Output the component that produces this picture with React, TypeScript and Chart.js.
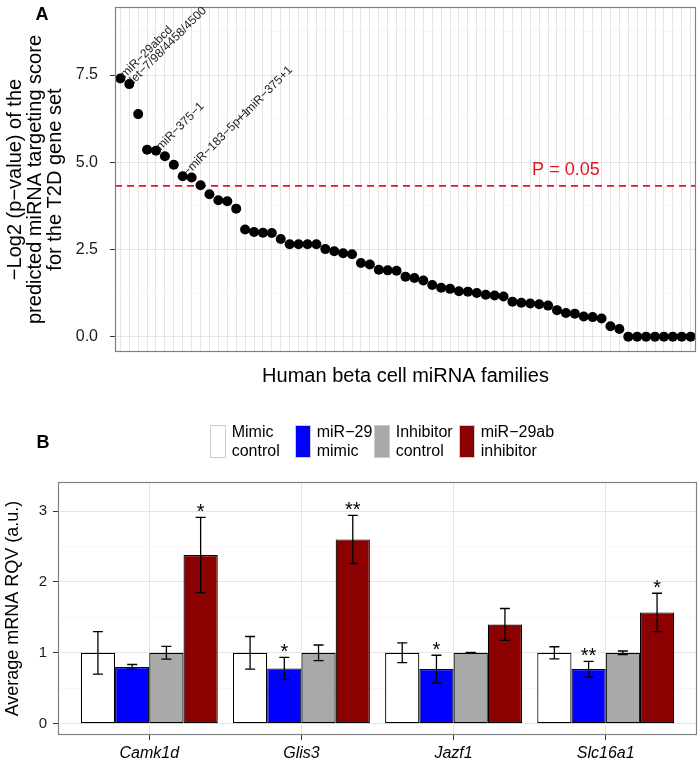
import React, { useEffect, useRef } from "react";
import { Chart, registerables } from "chart.js";

Chart.register(...registerables);

const FONT = '"Liberation Sans", Arial, Helvetica, sans-serif';

// ---------- Panel A data ----------
const familyScores = [
  7.40, 7.24, 6.38, 5.36, 5.33, 5.17, 4.93, 4.60, 4.56, 4.34,
  4.08, 3.91, 3.88, 3.67, 3.07, 3.00, 2.98, 2.97, 2.80, 2.65,
  2.65, 2.65, 2.65, 2.51, 2.45, 2.39, 2.36, 2.11, 2.07, 1.92,
  1.90, 1.89, 1.72, 1.68, 1.61, 1.48, 1.40, 1.37, 1.30, 1.29,
  1.25, 1.20, 1.18, 1.15, 1.00, 0.97, 0.95, 0.93, 0.89, 0.76,
  0.68, 0.66, 0.58, 0.56, 0.52, 0.30, 0.22,
  0, 0, 0, 0, 0, 0, 0, 0,
];
const familyLabels = [
  { index: 0, text: " miR−29abcd" },
  { index: 1, text: " let−7/98/4458/4500" },
  { index: 4, text: " miR−375−1" },
  { index: 7, text: " −miR−183−5p+1" },
  { index: 7, text: "                       −−miR−375+1" },
];
const pValueCutoff = 0.05;
const cutoffLabel = "P = 0.05";
const yTicksA = [0, 2.5, 5, 7.5];
const yMinorA = [1.25, 3.75, 6.25, 8.75];
const yTitleA = ["−Log2 (p−value) of the", "predicted miRNA targeting score", "for the T2D gene set"];
const xTitleA = "Human beta cell miRNA families";

// ---------- Panel B data ----------
const genes = ["Camk1d", "Glis3", "Jazf1", "Slc16a1"];
const seriesLabels = [
  ["Mimic", "control"],
  ["miR−29", "mimic"],
  ["Inhibitor", "control"],
  ["miR−29ab", "inhibitor"],
];
const mimicControl = [1.0, 1.0, 1.0, 1.0];
const mimicControlErr = [0.30, 0.23, 0.14, 0.085];
const mir29Mimic = [0.80, 0.78, 0.77, 0.77];
const mir29MimicErr = [0.035, 0.155, 0.195, 0.11];
const inhibitorControl = [1.0, 1.0, 1.0, 1.0];
const inhibitorControlErr = [0.09, 0.11, 0.005, 0.025];
const mir29abInhibitor = [2.38, 2.60, 1.40, 1.57];
const mir29abInhibitorErr = [0.53, 0.34, 0.225, 0.27];
const sigMimicControl = ["", "", "", ""];
const sigMimic = ["", "*", "*", "**"];
const sigInhibitorControl = ["", "", "", ""];
const sigInhibitor = ["*", "**", "", "*"];
const yTicksB = [0, 1, 2, 3];
const yMinorB = [0.5, 1.5, 2.5];
const yTitleB = "Average mRNA RQV (a.u.)";

const RED = "#e8151b";
const GRID_MAJOR = "#e5e5e5";
const GRID_MINOR = "#f7f7f7";
const BORDER = "#808080";
const TEXT = "#1a1a1a";
const seriesColors = ["#ffffff", "#0000ff", "#a9a9a9", "#8b0000"];

function panelBorder(chart: any) {
  const { ctx, chartArea: a } = chart;
  ctx.save();
  ctx.strokeStyle = BORDER;
  ctx.lineWidth = 1.2;
  ctx.strokeRect(a.left + 0.5, a.top + 0.5, a.right - a.left - 1, a.bottom - a.top - 1);
  ctx.restore();
}

function noPad(s: any) {
  s.paddingTop = 0;
  s.paddingBottom = 0;
  s.paddingLeft = 0;
  s.paddingRight = 0;
}

export default function App() {
  const refA = useRef<HTMLCanvasElement>(null);
  const refB = useRef<HTMLCanvasElement>(null);

  useEffect(() => {
    Chart.defaults.font.family = FONT;
    const cutoff = -Math.log2(pValueCutoff);
    const n = familyScores.length;

    const plugA = {
      id: "panelA",
      afterDraw(chart: any) {
        const { ctx } = chart;
        const xs = chart.scales.x;
        const ys = chart.scales.y;
        panelBorder(chart);
        ctx.save();
        ctx.fillStyle = "#222";
        ctx.font = `12px ${FONT}`;
        ctx.textAlign = "left";
        ctx.textBaseline = "middle";
        familyLabels.forEach((l) => {
          const px = xs.getPixelForValue(l.index);
          const py = ys.getPixelForValue(familyScores[l.index]);
          ctx.save();
          ctx.translate(px, py);
          ctx.rotate(-Math.PI / 4);
          ctx.fillText(l.text, 0, 0);
          ctx.restore();
        });
        ctx.fillStyle = RED;
        ctx.font = `18px ${FONT}`;
        ctx.textAlign = "center";
        ctx.fillText(cutoffLabel, xs.getPixelForValue(50), ys.getPixelForValue(4.78));
        ctx.fillStyle = "#000";
        ctx.font = `bold 18px ${FONT}`;
        ctx.fillText("A", 42, 15);
        ctx.restore();
      },
    };

    const chartA = new Chart(refA.current as HTMLCanvasElement, {
      type: "scatter",
      data: {
        datasets: [
          {
            label: "families",
            data: familyScores.map((v, i) => ({ x: i, y: v })),
            backgroundColor: "#000",
            borderWidth: 0,
            pointRadius: 5,
            pointHoverRadius: 5,
          },
          {
            type: "line",
            label: "cutoff",
            data: [
              { x: -0.6, y: cutoff },
              { x: n - 0.4, y: cutoff },
            ],
            borderColor: RED,
            borderWidth: 1.6,
            borderDash: [7, 5],
            pointRadius: 0,
            fill: false,
          } as any,
        ],
      },
      options: {
        responsive: false,
        animation: false,
        events: [],
        layout: { autoPadding: false, padding: { top: 7, right: 3, left: 0, bottom: 0 } },
        plugins: { legend: { display: false }, tooltip: { enabled: false } },
        scales: {
          x: {
            type: "linear",
            min: -0.6,
            max: n - 0.4,
            afterBuildTicks: (s: any) => {
              s.ticks = familyScores.map((_, i) => ({ value: i }));
            },
            afterFit: (s: any) => {
              s.height = 43;
              noPad(s);
            },
            ticks: { display: false },
            grid: { color: GRID_MAJOR, lineWidth: 1, drawTicks: false },
            border: { display: false },
            title: {
              display: true,
              text: xTitleA,
              color: "#000",
              font: { size: 20, family: FONT },
              padding: { top: 0, bottom: 7 },
            },
          },
          y: {
            type: "linear",
            min: -0.44,
            max: 9.45,
            afterBuildTicks: (s: any) => {
              s.ticks = [...yTicksA, ...yMinorA].sort((a, b) => a - b).map((v) => ({ value: v }));
            },
            afterFit: (s: any) => {
              s.width = 115;
              noPad(s);
            },
            ticks: {
              autoSkip: false,
              padding: 12,
              color: TEXT,
              font: { size: 16, family: FONT },
              callback: (v: any) => (yTicksA.includes(Number(v)) ? Number(v).toFixed(1) : ""),
            },
            grid: {
              lineWidth: 1,
              tickLength: 5,
              color: (c: any) => (c.tick && yTicksA.includes(c.tick.value) ? GRID_MAJOR : GRID_MINOR),
              tickColor: (c: any) => (c.tick && yTicksA.includes(c.tick.value) ? "#333" : "rgba(0,0,0,0)"),
            },
            border: { display: false },
            title: {
              display: true,
              text: yTitleA,
              color: "#000",
              font: { size: 20, family: FONT, lineHeight: 1.0 },
              padding: { top: 5, bottom: 0 },
            },
          },
        },
      },
      plugins: [plugA],
    } as any);

    const values = [mimicControl, mir29Mimic, inhibitorControl, mir29abInhibitor];
    const errors = [mimicControlErr, mir29MimicErr, inhibitorControlErr, mir29abInhibitorErr];
    const sigs = [sigMimicControl, sigMimic, sigInhibitorControl, sigInhibitor];

    const plugB = {
      id: "panelB",
      afterDatasetsDraw(chart: any) {
        const { ctx } = chart;
        const ys = chart.scales.y;
        ctx.save();
        ctx.strokeStyle = "#000";
        ctx.lineWidth = 1.3;
        values.forEach((vals, d) => {
          const meta = chart.getDatasetMeta(d);
          meta.data.forEach((bar: any, i: number) => {
            const x = bar.x;
            const hi = ys.getPixelForValue(vals[i] + errors[d][i]);
            const lo = ys.getPixelForValue(vals[i] - errors[d][i]);
            const cap = 5;
            ctx.beginPath();
            ctx.moveTo(x, hi);
            ctx.lineTo(x, lo);
            ctx.moveTo(x - cap, hi);
            ctx.lineTo(x + cap, hi);
            ctx.moveTo(x - cap, lo);
            ctx.lineTo(x + cap, lo);
            ctx.stroke();
            const s = sigs[d][i];
            if (s) {
              ctx.fillStyle = "#000";
              ctx.font = `20px ${FONT}`;
              ctx.textAlign = "center";
              ctx.textBaseline = "alphabetic";
              ctx.fillText(s, x, hi + 1);
            }
          });
        });
        ctx.restore();
      },
      afterDraw(chart: any) {
        const { ctx } = chart;
        panelBorder(chart);
        ctx.save();
        const keyX = [210, 295, 374, 459];
        seriesLabels.forEach((lab, k) => {
          ctx.fillStyle = seriesColors[k];
          ctx.fillRect(keyX[k], 30, 16, 33);
          ctx.strokeStyle = "#cccccc";
          ctx.lineWidth = 1;
          ctx.strokeRect(keyX[k] + 0.5, 30.5, 15, 32);
          ctx.fillStyle = "#000";
          ctx.font = `16px ${FONT}`;
          ctx.textAlign = "left";
          ctx.textBaseline = "middle";
          ctx.fillText(lab[0], keyX[k] + 21.7, 38);
          ctx.fillText(lab[1], keyX[k] + 21.7, 57);
        });
        ctx.fillStyle = "#000";
        ctx.font = `bold 18px ${FONT}`;
        ctx.textAlign = "center";
        ctx.textBaseline = "middle";
        ctx.fillText("B", 43, 48);
        ctx.restore();
      },
    };

    const chartB = new Chart(refB.current as HTMLCanvasElement, {
      type: "bar",
      data: {
        datasets: values.map((vals, d) => ({
          label: seriesLabels[d].join(" "),
          data: vals.map((v, i) => ({ x: i + 1, y: v })),
          backgroundColor: seriesColors[d],
          borderColor: "#000",
          borderWidth: 1.2,
          borderSkipped: false,
          barPercentage: 1.0,
          categoryPercentage: 0.9,
        })),
      },
      options: {
        responsive: false,
        animation: false,
        events: [],
        layout: { autoPadding: false, padding: { top: 87, right: 2, left: 0, bottom: 0 } },
        plugins: { legend: { display: false }, tooltip: { enabled: false } },
        scales: {
          x: {
            type: "linear",
            min: 0.4,
            max: genes.length + 0.6,
            offset: false,
            afterBuildTicks: (s: any) => {
              s.ticks = genes.map((_, i) => ({ value: i + 1 }));
            },
            afterFit: (s: any) => {
              s.height = 29;
              noPad(s);
            },
            ticks: {
              autoSkip: false,
              maxRotation: 0,
              padding: 4,
              color: "#000",
              font: { size: 16, style: "italic", family: FONT },
              callback: (v: any) => genes[Number(v) - 1] ?? "",
            },
            grid: { offset: false, color: GRID_MAJOR, lineWidth: 1, tickLength: 5, tickColor: "#333" },
            border: { display: false },
          },
          y: {
            type: "linear",
            min: -0.16,
            max: 3.41,
            afterBuildTicks: (s: any) => {
              s.ticks = [...yTicksB, ...yMinorB].sort((a, b) => a - b).map((v) => ({ value: v }));
            },
            afterFit: (s: any) => {
              s.width = 58;
              noPad(s);
            },
            ticks: {
              autoSkip: false,
              padding: 6,
              color: TEXT,
              font: { size: 15, family: FONT },
              callback: (v: any) => (yTicksB.includes(Number(v)) ? String(v) : ""),
            },
            grid: {
              lineWidth: 1,
              tickLength: 5,
              color: (c: any) => (c.tick && yTicksB.includes(c.tick.value) ? GRID_MAJOR : GRID_MINOR),
              tickColor: (c: any) => (c.tick && yTicksB.includes(c.tick.value) ? "#333" : "rgba(0,0,0,0)"),
            },
            border: { display: false },
            title: {
              display: true,
              text: yTitleB,
              color: "#000",
              font: { size: 18, family: FONT },
              padding: { top: 2, bottom: 0 },
            },
          },
        },
      },
      plugins: [plugB],
    } as any);

    return () => {
      chartA.destroy();
      chartB.destroy();
    };
  }, []);

  return (
    <div style={{ position: "absolute", left: 0, top: 0, width: 699, height: 764, background: "#fff" }}>
      <canvas ref={refA} width={699} height={395} style={{ display: "block", width: 699, height: 395 }} />
      <canvas ref={refB} width={699} height={369} style={{ display: "block", width: 699, height: 369 }} />
    </div>
  );
}
